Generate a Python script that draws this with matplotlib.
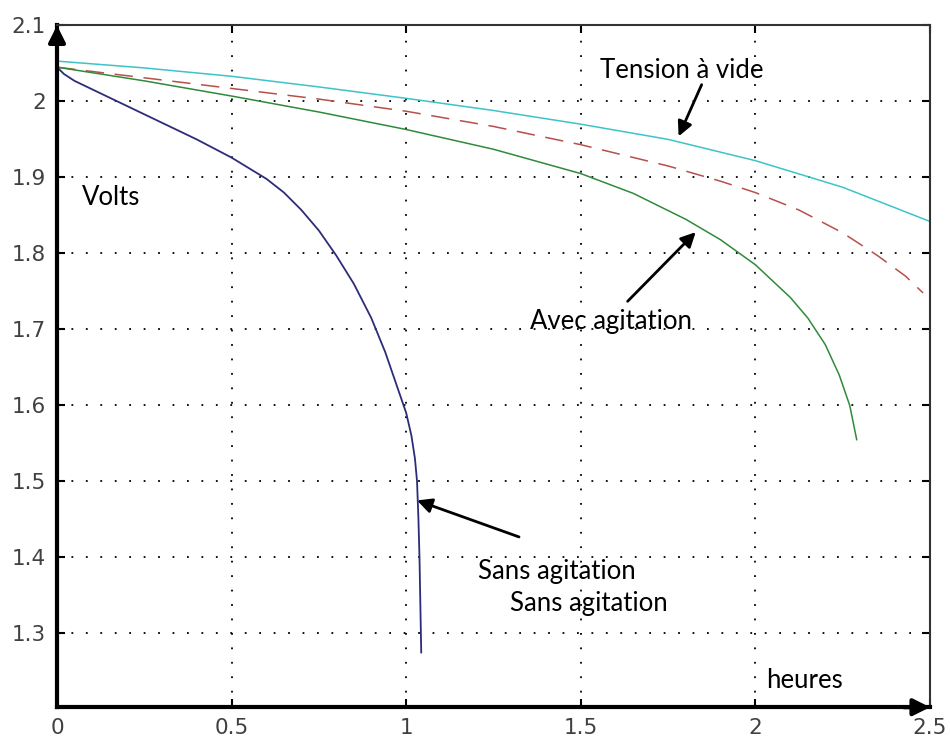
import numpy as np
import matplotlib
matplotlib.use('Agg')
import matplotlib.pyplot as plt

# Valeurs (heures, volts)
x_vide = [0, 0.25, 0.5, 0.75, 1.0, 1.25, 1.5, 1.75, 2.0, 2.25, 2.5]
y_vide = [2.053, 2.044, 2.033, 2.019, 2.004, 1.988, 1.970, 1.950, 1.922, 1.887, 1.842]

x_ref = [0, 0.25, 0.5, 0.75, 1.0, 1.25, 1.5, 1.75, 1.9, 2.0, 2.125, 2.25, 2.35, 2.43, 2.48]
y_ref = [2.045, 2.031, 2.017, 2.003, 1.987, 1.967, 1.943, 1.915, 1.895, 1.880, 1.857,
         1.827, 1.797, 1.770, 1.748]

x_avec = [0, 0.25, 0.5, 0.75, 1.0, 1.25, 1.5, 1.65, 1.8, 1.9, 2.0, 2.1, 2.15, 2.2,
          2.24, 2.27, 2.29]
y_avec = [2.045, 2.027, 2.007, 1.986, 1.963, 1.937, 1.905, 1.879, 1.845, 1.818, 1.785,
          1.742, 1.715, 1.680, 1.640, 1.600, 1.555]

x_sans = [0, 0.02, 0.05, 0.1, 0.2, 0.3, 0.4, 0.5, 0.6, 0.65, 0.7, 0.75, 0.8, 0.85, 0.9,
          0.94, 0.97, 1.0, 1.015, 1.025, 1.031, 1.035, 1.038, 1.043]
y_sans = [2.045, 2.036, 2.027, 2.016, 1.994, 1.972, 1.950, 1.926, 1.898, 1.880, 1.857,
          1.830, 1.797, 1.760, 1.715, 1.670, 1.630, 1.590, 1.560, 1.530, 1.500, 1.450,
          1.400, 1.275]

xticks = [0, 0.5, 1, 1.5, 2, 2.5]
xlabels = ['0', '0.5', '1', '1.5', '2', '2.5']
yticks = [1.3, 1.4, 1.5, 1.6, 1.7, 1.8, 1.9, 2.0, 2.1]
ylabels = ['1.3', '1.4', '1.5', '1.6', '1.7', '1.8', '1.9', '2', '2.1']

fig = plt.figure(figsize=(9.5, 7.46), dpi=100)
ax = fig.add_axes([0.06, 0.052, 0.919, 0.914])

ax.plot(x_vide, y_vide, color='#3cc4c8', lw=1.1)
ax.plot(x_ref, y_ref, color='#b5504a', lw=1.1, ls=(0, (12, 7)))
ax.plot(x_avec, y_avec, color='#2f8a3a', lw=1.1)
ax.plot(x_sans, y_sans, color='#2c2c7a', lw=1.3)

ax.set_xlim(0, 2.5)
ax.set_ylim(1.203, 2.1)
ax.set_xticks(xticks)
ax.set_xticklabels(xlabels)
ax.set_yticks(yticks)
ax.set_yticklabels(ylabels)
ax.tick_params(direction='in', length=6, width=1.5, top=True, right=True,
               labelsize=15.5, labelcolor='#404040')
ax.tick_params(axis='x', pad=8)
ax.tick_params(axis='y', pad=8)
for lab in ax.get_xticklabels() + ax.get_yticklabels():
    lab.set_family('DejaVu Sans')
ax.grid(True, color='black', ls=(0, (1, 7)), lw=1.3)

ax.spines['left'].set_linewidth(3)
ax.spines['bottom'].set_linewidth(3)
ax.spines['top'].set_linewidth(1.5)
ax.spines['right'].set_linewidth(1.5)
ax.spines['top'].set_color('#333333')
ax.spines['right'].set_color('#333333')

# fleches des axes
ax.annotate('', xy=(0, 1), xytext=(0, 0.97), xycoords='axes fraction',
            arrowprops=dict(arrowstyle='-|>', color='black', lw=3, mutation_scale=25,
                            shrinkA=0, shrinkB=0))
ax.annotate('', xy=(1, 0), xytext=(0.97, 0), xycoords='axes fraction',
            arrowprops=dict(arrowstyle='-|>', color='black', lw=3, mutation_scale=25,
                            shrinkA=0, shrinkB=0))

fnt = dict(family='Lato', fontsize=18.5, color='black')
arr = dict(arrowstyle='-|>', color='black', lw=2, mutation_scale=22, shrinkA=0, shrinkB=0)

ax.text(1.79, 2.041, 'Tension à vide', ha='center', va='center', **fnt)
ax.annotate('', xy=(1.78, 1.954), xytext=(1.846, 2.022), arrowprops=arr)

ax.text(1.586, 1.710, 'Avec agitation', ha='center', va='center', **fnt)
ax.annotate('', xy=(1.829, 1.828), xytext=(1.634, 1.737), arrowprops=arr)

ax.text(1.431, 1.382, 'Sans agitation', ha='center', va='center', **fnt)
ax.text(1.523, 1.340, 'Sans agitation', ha='center', va='center', **fnt)
ax.annotate('', xy=(1.031, 1.475), xytext=(1.323, 1.427), arrowprops=arr)

ax.text(0.154, 1.873, 'Volts', ha='center', va='center', **fnt)
ax.text(2.14, 1.238, 'heures', ha='center', va='center', **fnt)

fig.savefig('out.png', dpi=100)
